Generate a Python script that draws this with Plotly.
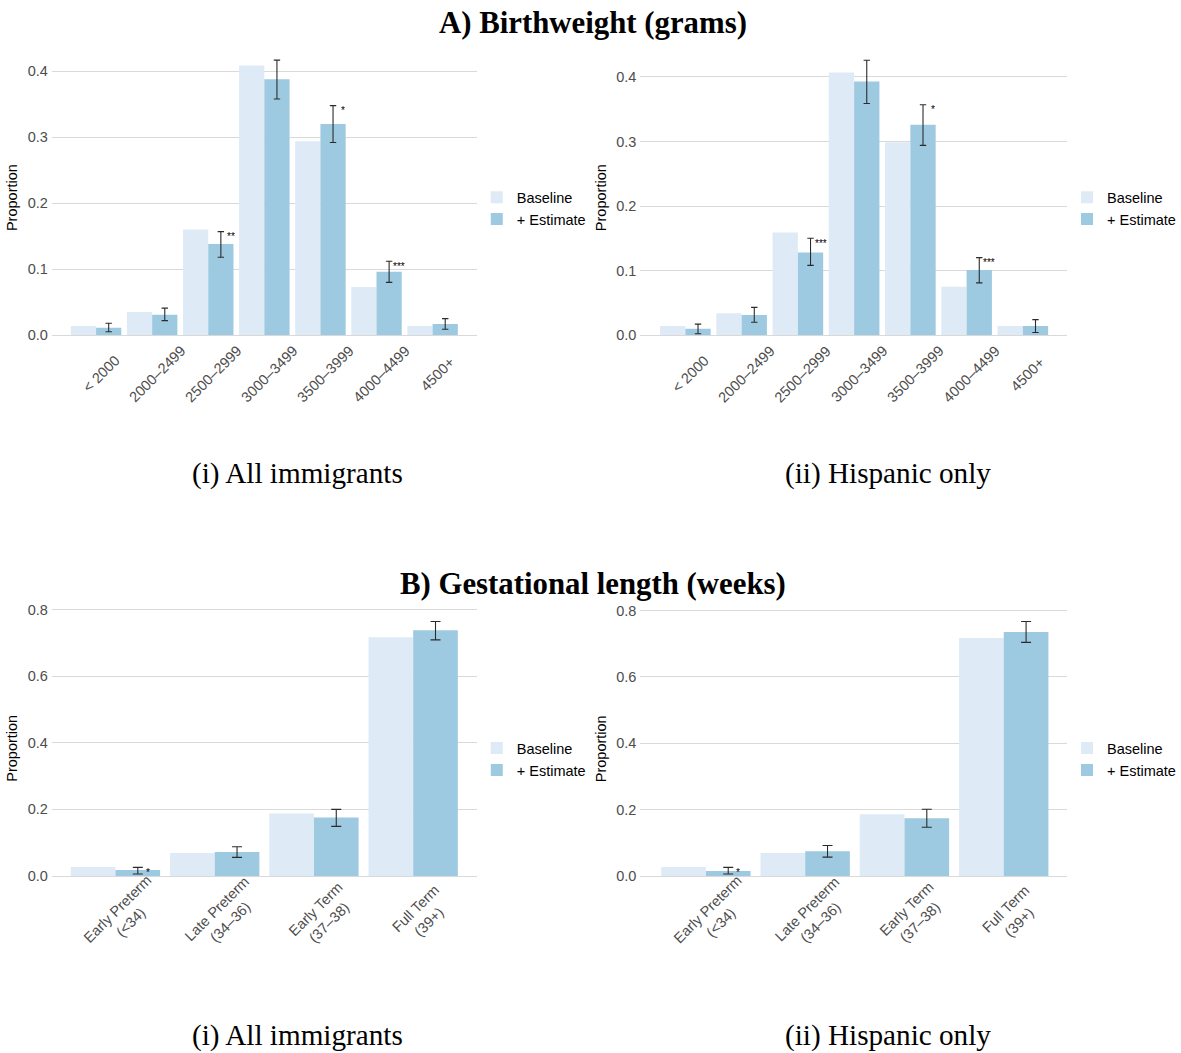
import plotly.graph_objects as go

# ---------------- data ----------------
bw_categories = ["< 2000", "2000–2499", "2500–2999", "3000–3499", "3500–3999", "4000–4499", "4500+"]
ga_categories = ["Early Preterm\n(<34)", "Late Preterm\n(34–36)", "Early Term\n(37–38)", "Full Term\n(39+)"]

# A) Birthweight, (i) All immigrants
bw_all_baseline = [0.014, 0.035, 0.160, 0.409, 0.294, 0.073, 0.014]
bw_all_estimate = [0.011, 0.031, 0.138, 0.388, 0.320, 0.096, 0.017]
bw_all_upper = [0.018, 0.041, 0.157, 0.417, 0.348, 0.112, 0.025]
bw_all_lower = [0.005, 0.022, 0.118, 0.358, 0.292, 0.080, 0.009]
bw_all_stars = ["", "", "**", "", "*", "***", ""]

# A) Birthweight, (ii) Hispanic only
bw_hisp_baseline = [0.014, 0.034, 0.159, 0.407, 0.299, 0.075, 0.014]
bw_hisp_estimate = [0.010, 0.031, 0.128, 0.393, 0.326, 0.101, 0.014]
bw_hisp_upper = [0.017, 0.043, 0.150, 0.426, 0.357, 0.120, 0.024]
bw_hisp_lower = [0.002, 0.020, 0.108, 0.359, 0.294, 0.081, 0.004]
bw_hisp_stars = ["", "", "***", "", "*", "***", ""]

# B) Gestational length, (i) All immigrants
ga_all_baseline = [0.027, 0.069, 0.188, 0.717]
ga_all_estimate = [0.018, 0.072, 0.176, 0.738]
ga_all_upper = [0.026, 0.088, 0.200, 0.764]
ga_all_lower = [0.006, 0.056, 0.149, 0.709]
ga_all_stars = ["*", "", "", ""]

# B) Gestational length, (ii) Hispanic only
ga_hisp_baseline = [0.027, 0.069, 0.186, 0.717]
ga_hisp_estimate = [0.015, 0.075, 0.174, 0.735]
ga_hisp_upper = [0.026, 0.092, 0.201, 0.767]
ga_hisp_lower = [0.006, 0.057, 0.147, 0.704]
ga_hisp_stars = ["*", "", "", ""]

bw_ticks = [0.0, 0.1, 0.2, 0.3, 0.4]
ga_ticks = [0.0, 0.2, 0.4, 0.6, 0.8]

series_names = ["Baseline", "+ Estimate"]
titles = ["A) Birthweight (grams)", "B) Gestational length (weeks)"]
subtitles = ["(i) All immigrants", "(ii) Hispanic only"]

# ---------------- style ----------------
W, H = 1181, 1053
C_BASE = "#deebf7"
C_EST = "#9ecae1"
SANS = "Liberation Sans, Arial, sans-serif"
SERIF = "Liberation Serif, Times New Roman, serif"
GRID = "#d9d9d9"

fig = go.Figure()

panels = [
    dict(cats=bw_categories, base=bw_all_baseline, est=bw_all_estimate, hi=bw_all_upper, lo=bw_all_lower,
         stars=bw_all_stars, ticks=bw_ticks, px=(52, 478), zero=331.0, tick=(65.7, 0.4),
         yr=(-0.021, 0.438), xr=(-0.788, 6.788), capw=3.2, lab=(5, 370), legy=203.5),
    dict(cats=bw_categories, base=bw_hisp_baseline, est=bw_hisp_estimate, hi=bw_hisp_upper, lo=bw_hisp_lower,
         stars=bw_hisp_stars, ticks=bw_ticks, px=(642, 1070), zero=331.0, tick=(71.4, 0.4),
         yr=(-0.021, 0.447), xr=(-0.80, 6.79), capw=3.2, lab=(5, 370), legy=203.5),
    dict(cats=ga_categories, base=ga_all_baseline, est=ga_all_estimate, hi=ga_all_upper, lo=ga_all_lower,
         stars=ga_all_stars, ticks=ga_ticks, px=(52, 478), zero=875.0, tick=(607.0, 0.8),
         yr=(-0.038, 0.805), xr=(-0.641, 3.641), capw=5, lab=(9, 915), legy=757.5),
    dict(cats=ga_categories, base=ga_hisp_baseline, est=ga_hisp_estimate, hi=ga_hisp_upper, lo=ga_hisp_lower,
         stars=ga_hisp_stars, ticks=ga_ticks, px=(642, 1070), zero=875.0, tick=(608.0, 0.8),
         yr=(-0.038, 0.805), xr=(-0.66, 3.64), capw=5, lab=(9, 915), legy=757.5),
]

annotations = []
layout_axes = {}
legends = {}

for i, p in enumerate(panels):
    n = i + 1
    xa = "x" if n == 1 else f"x{n}"
    ya = "y" if n == 1 else f"y{n}"
    lg = "legend" if n == 1 else f"legend{n}"
    cats = [c.replace("\n", " ") for c in p["cats"]]

    fig.add_trace(go.Bar(x=cats, y=p["base"], name=series_names[0], marker=dict(color=C_BASE, line=dict(width=0)),
                         xaxis=xa, yaxis=ya, legend=lg, offsetgroup="base"))
    fig.add_trace(go.Bar(x=cats, y=p["est"], name=series_names[1], marker=dict(color=C_EST, line=dict(width=0)),
                         xaxis=xa, yaxis=ya, legend=lg, offsetgroup="est",
                         error_y=dict(type="data", symmetric=False,
                                      array=[h - e for h, e in zip(p["hi"], p["est"])],
                                      arrayminus=[e - l for e, l in zip(p["est"], p["lo"])],
                                      color="#2b2b2b", thickness=1.1, width=p["capw"])))

    x0, x1 = p["px"]
    ppu = (p["zero"] - p["tick"][0]) / p["tick"][1]
    bot_px = p["zero"] - p["yr"][0] * ppu
    top_px = p["zero"] - p["yr"][1] * ppu
    xdom = [x0 / W, x1 / W]
    ydom = [(H - bot_px) / H, (H - top_px) / H]

    xkey = "xaxis" if n == 1 else f"xaxis{n}"
    ykey = "yaxis" if n == 1 else f"yaxis{n}"
    layout_axes[xkey] = dict(domain=xdom, anchor=ya, type="category", range=list(p["xr"]),
                             showgrid=False, showline=False, zeroline=False, showticklabels=False,
                             ticks="", fixedrange=True)
    layout_axes[ykey] = dict(domain=ydom, anchor=xa, range=list(p["yr"]), tickvals=p["ticks"],
                             tickformat=".1f", showgrid=True, gridcolor=GRID, gridwidth=1,
                             zeroline=False, showline=False, ticks="",
                             tickfont=dict(family=SANS, size=14.5, color="#4d4d4d"),
                             title=dict(text="Proportion", font=dict(family=SANS, size=14.5, color="black"),
                                        standoff=6),
                             ticklabelstandoff=3, fixedrange=True)

    # category labels rotated 45 degrees, centred under each group
    for c_key, c_lab in zip(cats, p["cats"]):
        annotations.append(dict(x=c_key, xref=xa, y=(H - p["lab"][1]) / H, yref="paper",
                                text=c_lab.replace("<", "&lt;").replace("\n", "<br>"),
                                textangle=-45, showarrow=False, xanchor="center", yanchor="middle",
                                xshift=p["lab"][0], align="center",
                                font=dict(family=SANS, size=14.5, color="#4d4d4d")))

    # significance stars next to the error bars
    bar_px = 0.225 * (x1 - x0) / (p["xr"][1] - p["xr"][0])
    for c_key, s, h in zip(cats, p["stars"], p["hi"]):
        if s:
            annotations.append(dict(x=c_key, xref=xa, y=h, yref=ya, text=s, showarrow=False,
                                    xanchor="center", yanchor="middle", xshift=bar_px + 10, yshift=-5,
                                    font=dict(family=SANS, size=10, color="black")))

    legends[lg] = dict(x=x1 / W, xanchor="left", y=(H - p["legy"]) / H, yanchor="middle",
                       font=dict(family=SANS, size=14.5, color="black"), bgcolor="rgba(0,0,0,0)",
                       tracegroupgap=0, itemclick=False, itemdoubleclick=False)

# panel titles and subtitles
for t, yp in zip(titles, [17, 581]):
    annotations.append(dict(x=595 / W, y=(H - yp) / H, xref="paper", yref="paper", text=f"<b>{t}</b>",
                            showarrow=False, xanchor="center", yanchor="middle",
                            font=dict(family=SERIF, size=30.8, color="black")))
for yp in [470, 1035]:
    for s, xp in zip(subtitles, [298, 890]):
        annotations.append(dict(x=xp / W, y=(H - yp) / H, xref="paper", yref="paper", text=s,
                                showarrow=False, xanchor="center", yanchor="middle",
                                font=dict(family=SERIF, size=29.2, color="black")))

fig.update_layout(
    width=W, height=H, margin=dict(l=0, r=0, t=0, b=0),
    paper_bgcolor="white", plot_bgcolor="white",
    barmode="group", bargap=0.1, bargroupgap=0,
    annotations=annotations, showlegend=True,
    **layout_axes, **legends,
)

fig.write_html("out.html", config={"displayModeBar": False},
               post_script="document.body.style.margin='0px';")
